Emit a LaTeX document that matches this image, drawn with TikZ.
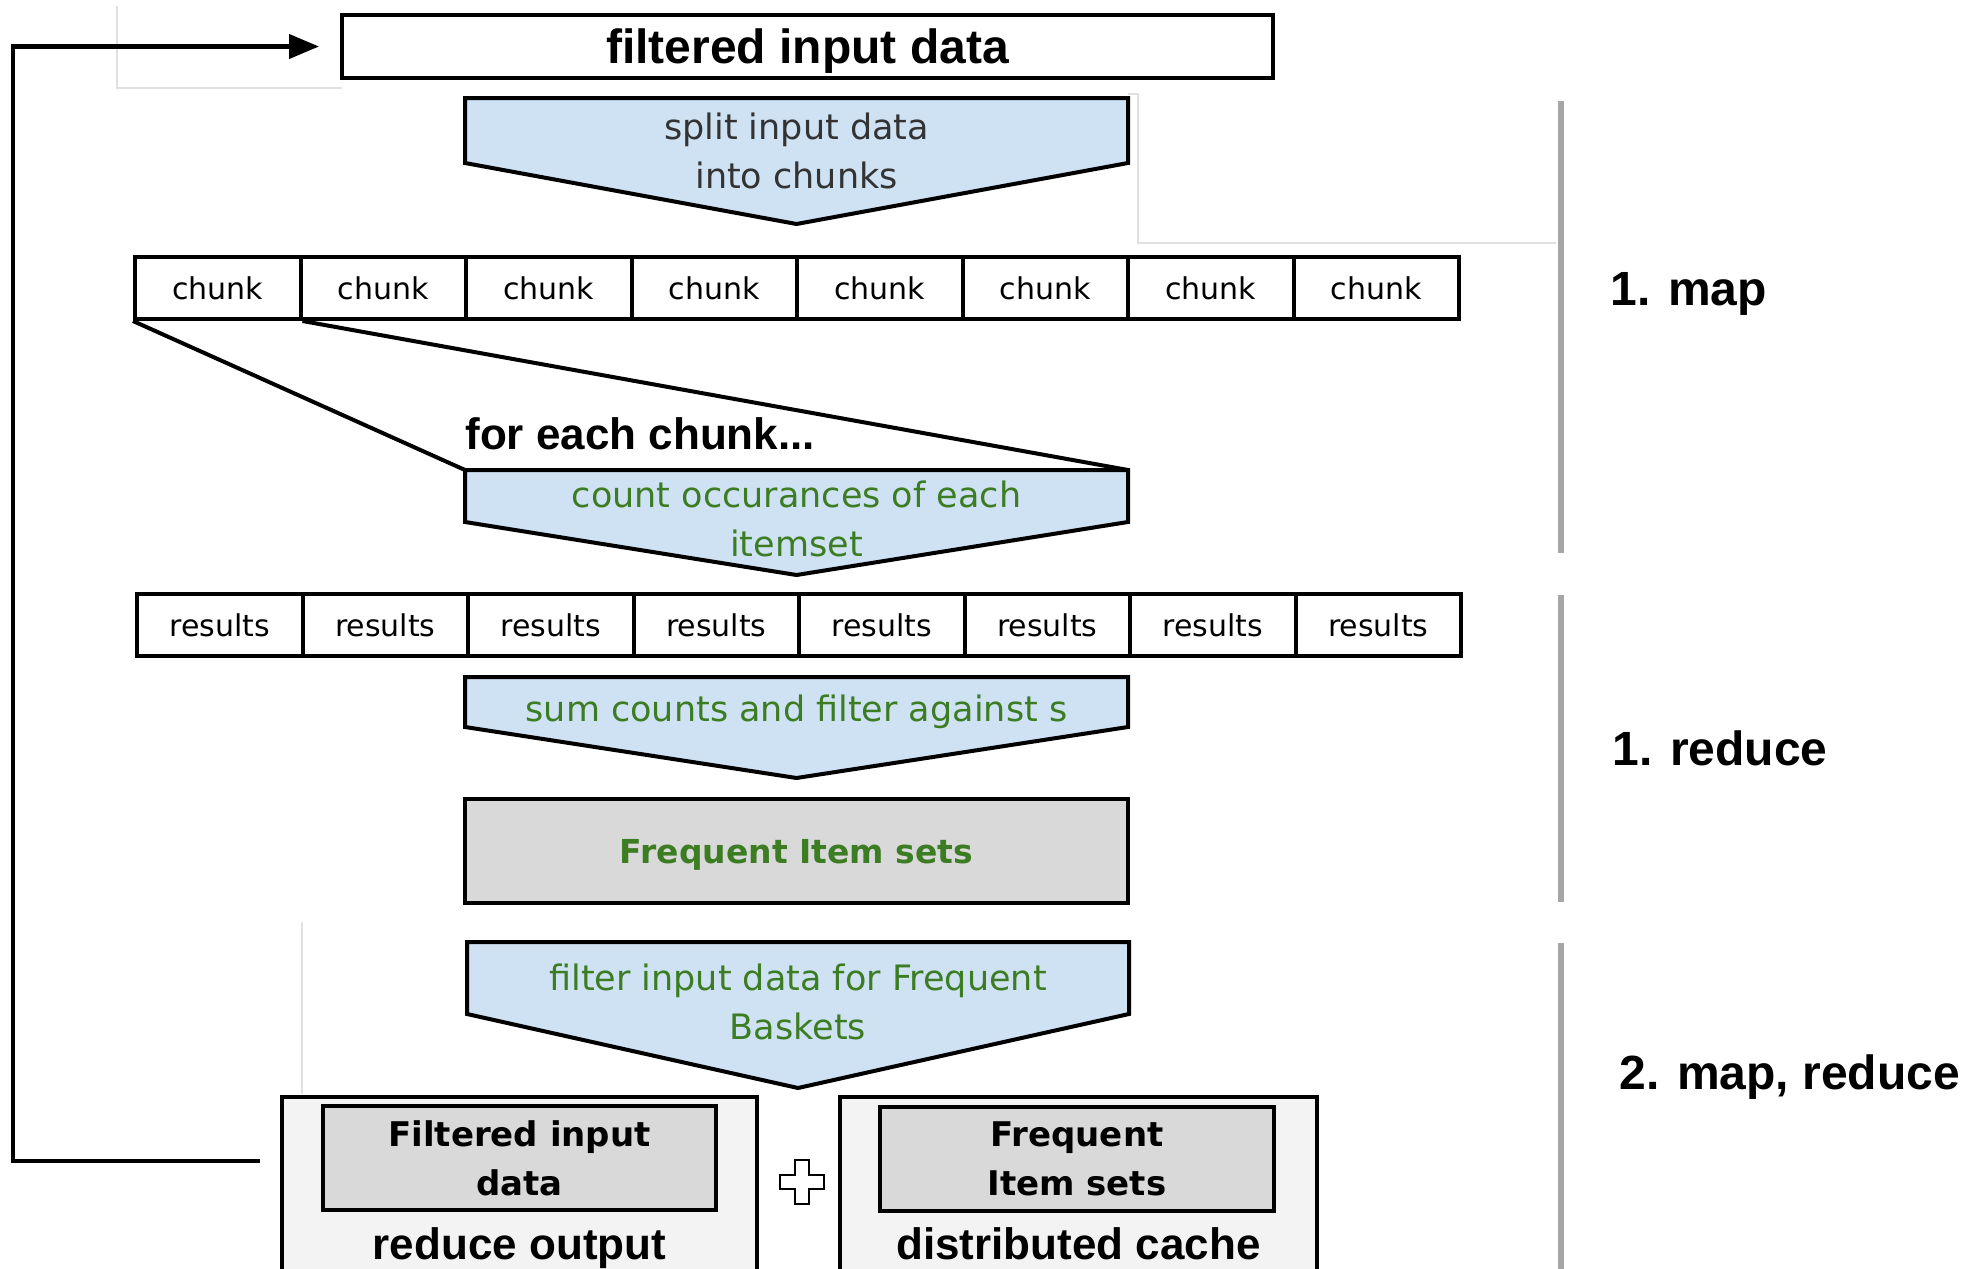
\documentclass[tikz,border=0pt]{standalone}
\usepackage{fontspec}
\setmainfont{DejaVu Sans}
\newfontfamily\headfont{Liberation Sans}
\usetikzlibrary{arrows.meta}

\definecolor{stepblue}{HTML}{CFE2F3}
\definecolor{boxgray}{HTML}{D9D9D9}
\definecolor{panelgray}{HTML}{F3F3F3}
\definecolor{textgreen}{RGB}{60,125,35}
\definecolor{phasebar}{HTML}{A6A6A6}
\definecolor{darktext}{HTML}{333333}

% a blue process step: rectangle with a downward pointing tip
% #1 name, #2 left x, #3 right x, #4 top y, #5 shoulder y, #6 tip y
\newcommand\stepblock[6]{%
  \coordinate (#1-nw) at (#2,#4);
  \coordinate (#1-ne) at (#3,#4);
  \coordinate (#1-tip) at ({(#2+#3)/2},#6);
  \draw[stepshape] (#1-nw) -- (#1-ne) -- (#3,#5) -- (#1-tip) -- (#2,#5) -- cycle;}

\begin{document}
\begin{tikzpicture}[x=0.5pt,y=-0.5pt,
  outline/.style={draw=black, line width=2pt},
  cell/.style={outline, fill=white, minimum width=82.75pt, minimum height=31pt,
    inner sep=0pt, font=\fontsize{15}{18}\selectfont},
  stepshape/.style={outline, fill=stepblue, line join=miter},
  steptext/.style={align=center, inner sep=0pt, text=textgreen,
    font=\fontsize{17.5}{24.5}\selectfont},
  itembox/.style={outline, fill=boxgray, inner sep=0pt, align=center},
  panel/.style={outline, fill=panelgray, inner sep=0pt},
  boldlabel/.style={inner sep=0pt, font=\headfont\bfseries\fontsize{22}{26}\selectfont},
  phaselabel/.style={inner sep=0pt, anchor=west, font=\headfont\bfseries\fontsize{24}{28}\selectfont},
  bar/.style={draw=phasebar, line width=2.6pt},
  faint/.style={draw=black!12, line width=0.6pt},
  feedback/.style={draw=black, line width=2.1pt, -{Triangle[length=15pt,width=12pt]}}
]
\clip (0,0) rectangle (1972,1269);
\fill[white] (0,0) rectangle (1972,1269);

% faint guide lines
\draw[faint] (117,6) -- (117,88) -- (342,88);
\draw[faint] (1128,94) -- (1138,94) -- (1138,243) -- (1556,243);
\draw[faint] (302,922) -- (302,1094);

% input
\node[outline, fill=white, minimum width=465.5pt, minimum height=31.5pt, inner sep=0pt,
  text depth=0pt, font=\headfont\bfseries\fontsize{24}{28}\selectfont] (top) at (807.5,46.5) {filtered input data};

% 1. map
\stepblock{split}{465}{1128}{98}{163}{224}
\node[steptext, text=darktext] (splittext) at (796.5,151) {split input data\\into chunks};

\foreach \i in {1,...,8}
  \node[cell] (c\i) at ({135+165.5*(\i-0.5)},288) {chunk};

\stepblock{count}{465}{1128}{470}{522}{575}
\draw[outline] (c1.south west) -- (count-nw);
\draw[outline] (c1.south east) -- (count-ne);
\node[boldlabel, anchor=west] (foreach) at (465,434) {for each chunk...};
\node[steptext] (counttext) at (796.5,519) {count occurances of each\\itemset};

% 1. reduce
\foreach \i in {1,...,8}
  \node[cell] (r\i) at ({137+165.5*(\i-0.5)},625) {results};

\stepblock{sum}{465}{1128}{677}{727}{778}
\node[steptext, text depth=0pt] (sumtext) at (796.5,708) {sum counts and filter against s};

\node[itembox, minimum width=331.5pt, minimum height=52pt, text=textgreen, text depth=0pt,
  font=\bfseries\fontsize{16.5}{20}\selectfont] (freq) at (796.5,851) {Frequent Item sets};

% 2. map, reduce
\stepblock{filter}{467}{1129}{942}{1014}{1088}
\node[steptext] (filtertext) at (798,1002) {filter input data for Frequent\\Baskets};

\node[panel, minimum width=237.5pt, minimum height=101.5pt] (ro) at (519.5,1198.5) {};
\node[panel, minimum width=238.5pt, minimum height=101.5pt] (dc) at (1078.5,1198.5) {};
\node[itembox, minimum width=196.5pt, minimum height=52pt,
  font=\bfseries\fontsize{17}{24.5}\selectfont] (rodata) at (519.5,1158) {Filtered input\\data};
\node[itembox, minimum width=197pt, minimum height=52pt,
  font=\bfseries\fontsize{17}{24.5}\selectfont] (dcdata) at (1077,1159) {Frequent\\Item sets};
\node[boldlabel, anchor=base] (rolabel) at (519.5,1259) {reduce output};
\node[boldlabel, anchor=base] (dclabel) at (1078.5,1259) {distributed cache};

% plus between the two outputs
\draw[black, line width=0.8pt, fill=white]
  (795,1160) -- (809,1160) -- (809,1175) -- (824,1175) -- (824,1189) -- (809,1189)
  -- (809,1204) -- (795,1204) -- (795,1189) -- (780,1189) -- (780,1175) -- (795,1175) -- cycle;

% loop back to the input
\coordinate (fbstart) at (260,1161);
\coordinate (fbx) at (13,0);
\draw[feedback] (fbstart) -| (fbx |- top.west) -- ([xshift=-10.5pt]top.west);

% phase markers
\draw[bar] (1561,101) -- (1561,553);
\draw[bar] (1561,595) -- (1561,902);
\draw[bar] (1561,943) -- (1561,1275);
\node[phaselabel] (pmap) at (1610,294) {1. map};
\node[phaselabel] (preduce) at (1612,748) {1. reduce};
\node[phaselabel] (pboth) at (1619,1077) {2. map, reduce};
\end{tikzpicture}
\end{document}
